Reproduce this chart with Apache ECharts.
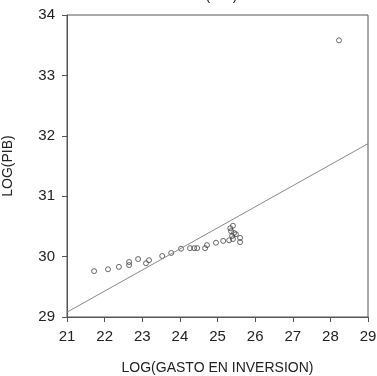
<!DOCTYPE html>
<html><head><meta charset="utf-8">
<script src="https://cdn.jsdelivr.net/npm/echarts@6/dist/echarts.min.js"></script>
<style>html,body{margin:0;padding:0;background:#fff}#c{width:377px;height:376px}</style>
</head><body><div id="c"></div>
<script>
var logGasto = [21.72,22.09,22.38,22.65,22.65,22.89,23.10,23.18,23.53,23.77,24.03,24.27,24.38,24.46,24.67,24.72,24.96,25.15,25.31,25.34,25.36,25.39,25.41,25.41,25.44,25.49,25.60,25.60,28.23];
var logPib   = [29.76,29.79,29.83,29.86,29.91,29.96,29.89,29.94,30.01,30.06,30.13,30.14,30.14,30.14,30.14,30.19,30.23,30.26,30.27,30.47,30.42,30.34,30.51,30.29,30.39,30.37,30.31,30.24,33.58];
var fitX = [21, 29];
var fitY = [29.08, 31.87];
var xTicks = [21,22,23,24,25,26,27,28,29];
var yTicks = [29,30,31,32,33,34];

var pts = logGasto.map(function(x,i){return [x, logPib[i]];});
var line = fitX.map(function(x,i){return [x, fitY[i]];});
var chart = echarts.init(document.getElementById('c'));
var font = 'Liberation Sans, Arial, sans-serif';
chart.setOption({
  animation:false,
  graphic:[{type:'text', left:176, top:-11, style:{text:'LOG(PIB)', fill:'#222', font:'14px Liberation Sans, Arial'}}],
  grid:{left:67,right:9,top:15,bottom:59,show:true,borderColor:'#555',borderWidth:1,containLabel:false,outerBoundsMode:'none'},
  xAxis:{type:'value',min:xTicks[0],max:xTicks[xTicks.length-1],interval:1,
    name:'LOG(GASTO EN INVERSION)',nameLocation:'middle',nameGap:44,
    nameTextStyle:{color:'#222',fontSize:14,fontFamily:font},
    axisLine:{show:true,lineStyle:{color:'#555'}},
    axisTick:{show:true,length:5,lineStyle:{color:'#555'}},
    axisLabel:{color:'#222',fontSize:15,fontFamily:font,margin:12},
    splitLine:{show:false}},
  yAxis:{type:'value',min:yTicks[0],max:yTicks[yTicks.length-1],interval:1,
    name:'LOG(PIB)',nameLocation:'middle',nameGap:52,nameRotate:90,
    nameTextStyle:{color:'#222',fontSize:14,fontFamily:font},
    axisLine:{show:true,lineStyle:{color:'#555'}},
    axisTick:{show:true,length:5,lineStyle:{color:'#555'}},
    axisLabel:{color:'#222',fontSize:15,fontFamily:font,margin:12},
    splitLine:{show:false}},
  series:[
    {type:'line',data:line,symbol:'none',lineStyle:{color:'#888',width:1},silent:true},
    {type:'scatter',data:pts,symbol:'circle',symbolSize:5,
      itemStyle:{color:'rgba(255,255,255,0)',borderColor:'#444',borderWidth:1}}
  ]
});
</script></body></html>
